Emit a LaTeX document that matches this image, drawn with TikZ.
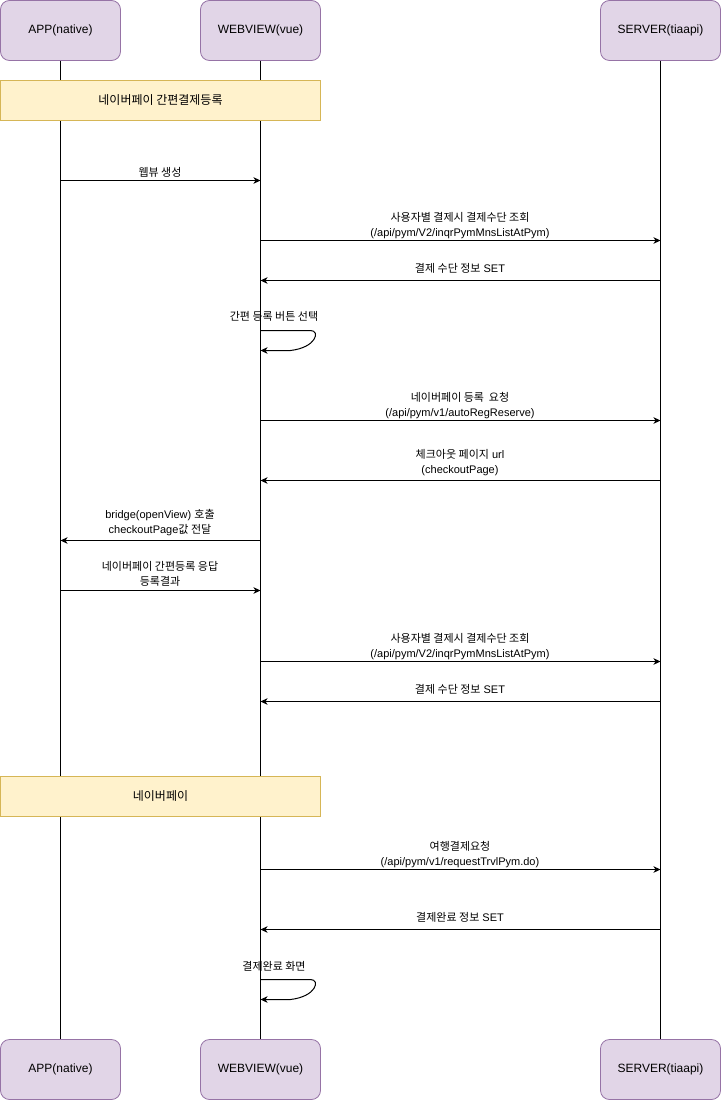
\documentclass[tikz,border=0pt]{standalone}
\usepackage{fontspec}
\setmainfont{Liberation Sans}
\newfontfamily\kr{Noto Sans CJK KR}
\usetikzlibrary{arrows.meta}
\definecolor{actorfill}{HTML}{E1D5E7}
\definecolor{actorline}{HTML}{9673A6}
\definecolor{notefill}{HTML}{FFF2CC}
\definecolor{noteline}{HTML}{D6B656}
\tikzset{
  actor/.style={draw=actorline, fill=actorfill, rounded corners=9pt, line width=0.8pt,
    minimum width=120pt, minimum height=60pt, inner sep=0pt, font=\fontsize{12}{14}\selectfont},
  notebox/.style={draw=noteline, fill=notefill, line width=0.8pt,
    minimum width=320pt, minimum height=40pt, inner sep=0pt, font=\fontsize{12}{14}\selectfont},
  msg/.style={-{Stealth[length=7pt,width=6.5pt,inset=2pt]}, line width=1pt},
  lifeline/.style={line width=1pt},
  lbl/.style={font=\fontsize{11}{15}\selectfont, align=center, inner sep=0pt}
}
\begin{document}
\begin{tikzpicture}[x=1pt,y=-1pt]
\useasboundingbox (0,0) rectangle (721,1113);
% actors
\node[actor] (appT) at (60.5,30.5) {APP(native)};
\node[actor] (webT) at (260.5,30.5) {WEBVIEW(vue)};
\node[actor] (srvT) at (660.5,30.5) {SERVER(tiaapi)};
\node[actor] (appB) at (60.5,1069.5) {APP(native)};
\node[actor] (webB) at (260.5,1069.5) {WEBVIEW(vue)};
\node[actor] (srvB) at (660.5,1069.5) {SERVER(tiaapi)};
% lifelines
\draw[lifeline] (appT.south) -- (appB.north);
\draw[lifeline] (webT.south) -- (webB.north);
\draw[lifeline] (srvT.south) -- (srvB.north);
% notes
\node[notebox] (note1) at (160.5,100.5) {\kr 네이버페이 간편결제등록};
\node[notebox] (note2) at (160.5,796.5) {\kr 네이버페이};
% messages
\draw[msg] (appT.south |- 0,180.5) -- (webT.south |- 0,180.5);
\node[lbl] (l1) at (160,172) {\kr 웹뷰 생성};

\draw[msg] (webT.south |- 0,240.5) -- (srvT.south |- 0,240.5);
\node[lbl] (l2) at (460,225.5) {{\kr 사용자별 결제시 결제수단 조회}\\(/api/pym/V2/inqrPymMnsListAtPym)};

\draw[msg] (srvT.south |- 0,280.5) -- (webT.south |- 0,280.5);
\node[lbl] (l3) at (460,268) {{\kr 결제 수단 정보} SET};

\coordinate (s1a) at (webT.south |- 0,330.5);
\coordinate (s1b) at (webT.south |- 0,350.5);
\draw[msg] (s1a) -- ++(50,0) .. controls +(10,0) and +(26,-3) .. ++(-20,20) -- (s1b);
\node[lbl] (l4) at (274,316) {\kr 간편 등록 버튼 선택};

\draw[msg] (webT.south |- 0,420.5) -- (srvT.south |- 0,420.5);
\node[lbl] (l5) at (460,405.5) {{\kr 네이버페이 등록~ 요청}\\(/api/pym/v1/autoRegReserve)};

\draw[msg] (srvT.south |- 0,480.5) -- (webT.south |- 0,480.5);
\node[lbl] (l6) at (460,463) {{\kr 체크아웃 페이지} url\\(checkoutPage)};

\draw[msg] (webT.south |- 0,540.5) -- (appT.south |- 0,540.5);
\node[lbl] (l7) at (160,523) {bridge(openView) {\kr 호출}\\checkoutPage{\kr 값 전달}};

\draw[msg] (appT.south |- 0,590.5) -- (webT.south |- 0,590.5);
\node[lbl] (l8) at (160,574) {\kr 네이버페이 간편등록 응답\\\kr 등록결과};

\draw[msg] (webT.south |- 0,661.5) -- (srvT.south |- 0,661.5);
\node[lbl] (l9) at (460,646.5) {{\kr 사용자별 결제시 결제수단 조회}\\(/api/pym/V2/inqrPymMnsListAtPym)};

\draw[msg] (srvT.south |- 0,701.5) -- (webT.south |- 0,701.5);
\node[lbl] (l10) at (460,689) {{\kr 결제 수단 정보} SET};

\draw[msg] (webT.south |- 0,869.5) -- (srvT.south |- 0,869.5);
\node[lbl] (l11) at (460,854.5) {{\kr 여행결제요청}\\(/api/pym/v1/requestTrvlPym.do)};

\draw[msg] (srvT.south |- 0,929.5) -- (webT.south |- 0,929.5);
\node[lbl] (l12) at (460,917) {{\kr 결제완료 정보} SET};

\coordinate (s2a) at (webT.south |- 0,979.5);
\coordinate (s2b) at (webT.south |- 0,999.5);
\draw[msg] (s2a) -- ++(50,0) .. controls +(10,0) and +(26,-3) .. ++(-20,20) -- (s2b);
\node[lbl] (l13) at (274,966) {\kr 결제완료 화면};
\end{tikzpicture}
\end{document}
